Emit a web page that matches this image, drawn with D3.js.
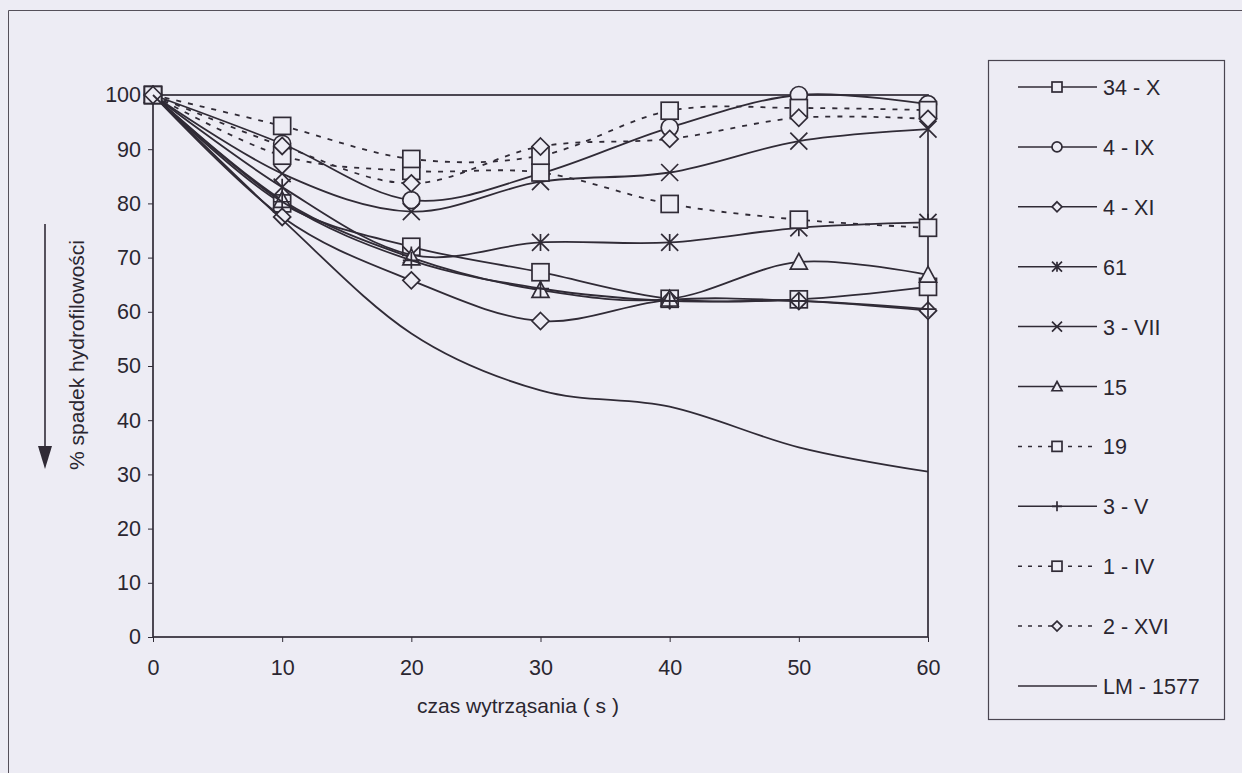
<!DOCTYPE html>
<html>
<head>
<meta charset="utf-8">
<script src="https://cdn.jsdelivr.net/npm/d3@7/dist/d3.min.js"></script>
<style>
  html, body { margin: 0; padding: 0; background: #edecf4; }
  svg { display: block; font-family: "Liberation Sans", Arial, sans-serif; }
</style>
</head>
<body>
<svg id="chart" width="1242" height="773"></svg>
<script>
// shaking time (s)
const times = [0, 10, 20, 30, 40, 50, 60];
const yTicks = [0, 10, 20, 30, 40, 50, 60, 70, 80, 90, 100];

// % loss of hydrophilicity per sample
const s34X  = [100, 80.0, 72.0, 67.3, 62.4, 62.3, 64.6];
const s4IX  = [100, 91.0, 80.6, 85.5, 94.0, 100, 98.3];
const s4XI  = [100, 77.5, 65.8, 58.3, 62.2, 62.0, 60.2];
const s61   = [100, 83.0, 70.5, 72.8, 72.8, 75.5, 76.5];
const s3VII = [100, 85.5, 78.5, 84.0, 85.7, 91.5, 93.7];
const s15   = [100, 80.6, 70.0, 64.0, 62.4, 69.2, 66.8];
const s19   = [100, 88.8, 86.0, 85.7, 79.9, 77.0, 75.5];
const s3V   = [100, 80.3, 69.5, 64.3, 62.0, 62.0, 60.5];
const s1IV  = [100, 94.3, 88.2, 88.8, 97.1, 97.6, 97.2];
const s2XVI = [100, 90.6, 83.7, 90.5, 91.9, 95.8, 95.6];
const sLM   = [100, 77.0, 56.0, 45.5, 42.5, 35.0, 30.5];

const seriesNames   = ["34 - X", "4 - IX", "4 - XI", "61", "3 - VII", "15", "19", "3 - V", "1 - IV", "2 - XVI", "LM - 1577"];
const seriesValues  = [s34X, s4IX, s4XI, s61, s3VII, s15, s19, s3V, s1IV, s2XVI, sLM];
const seriesMarkers = ["square", "circle", "diamond", "asterisk", "cross", "triangle", "square", "plus", "square", "diamond", "none"];
const seriesDashed  = [false, false, false, false, false, false, true, false, true, true, false];

const ink = "#302b36";
const textInk = "#2a2630";
const paper = "#edecf4";

const svg = d3.select("#chart");

// outer frame (left and top edges of the page box)
svg.append("path")
  .attr("d", "M8.5,773 V10.5 H1242")
  .attr("fill", "none").attr("stroke", "#55505a").attr("stroke-width", 1);

const plot = { left: 153, right: 928, top: 95, bottom: 637 };
const x = d3.scaleLinear().domain([0, 60]).range([plot.left, plot.right]);
const y = d3.scaleLinear().domain([0, 100]).range([plot.bottom, plot.top]);

// axes
const yAxis = svg.append("g")
  .attr("transform", `translate(${plot.left},0)`)
  .call(d3.axisLeft(y).tickValues(yTicks).tickSize(5).tickPadding(7));
const xAxis = svg.append("g")
  .attr("transform", `translate(0,${plot.bottom})`)
  .call(d3.axisBottom(x).tickValues(times).tickSize(5).tickPadding(18));
[yAxis, xAxis].forEach(g => {
  g.select(".domain").remove();
  g.selectAll(".tick line").attr("stroke", ink).attr("stroke-width", 1);
  g.selectAll(".tick text").attr("fill", textInk).style("font-size", "21.5px")
    .style("font-family", "'Liberation Sans', Arial, sans-serif");
});

// plot area frame
svg.append("rect")
  .attr("x", plot.left).attr("y", plot.top)
  .attr("width", plot.right - plot.left).attr("height", plot.bottom - plot.top)
  .attr("fill", "none").attr("stroke", ink).attr("stroke-width", 1.7);

// axis titles
svg.append("text")
  .attr("x", 518).attr("y", 713).attr("text-anchor", "middle")
  .attr("fill", textInk).style("font-size", "21px")
  .text("czas wytrząsania ( s )");
svg.append("text")
  .attr("transform", "translate(84,355) rotate(-90)")
  .attr("text-anchor", "middle").attr("fill", textInk).style("font-size", "21px")
  .text("% spadek hydrofilowości");

// downward arrow beside the y title
svg.append("line")
  .attr("x1", 45).attr("x2", 45).attr("y1", 224).attr("y2", 450)
  .attr("stroke", ink).attr("stroke-width", 1.6);
svg.append("path")
  .attr("d", "M38,446 L52,446 L45,469 Z").attr("fill", ink);

// marker shapes
function drawMarker(g, type, cx, cy, s) {
  const h = s / 2;
  const sw = 1.7;
  if (type === "square") {
    g.append("rect").attr("x", cx - h).attr("y", cy - h).attr("width", s).attr("height", s)
      .attr("fill", paper).attr("stroke", ink).attr("stroke-width", sw);
  } else if (type === "circle") {
    g.append("circle").attr("cx", cx).attr("cy", cy).attr("r", h)
      .attr("fill", paper).attr("stroke", ink).attr("stroke-width", sw);
  } else if (type === "diamond") {
    g.append("path").attr("d", `M${cx},${cy - h} L${cx + h},${cy} L${cx},${cy + h} L${cx - h},${cy} Z`)
      .attr("fill", paper).attr("stroke", ink).attr("stroke-width", sw);
  } else if (type === "triangle") {
    g.append("path").attr("d", `M${cx},${cy - h} L${cx + h},${cy + h * 0.85} L${cx - h},${cy + h * 0.85} Z`)
      .attr("fill", paper).attr("stroke", ink).attr("stroke-width", sw);
  } else if (type === "cross") {
    g.append("path").attr("d", `M${cx - h},${cy - h} L${cx + h},${cy + h} M${cx - h},${cy + h} L${cx + h},${cy - h}`)
      .attr("stroke", ink).attr("stroke-width", sw).attr("fill", "none");
  } else if (type === "asterisk") {
    g.append("path").attr("d", `M${cx - h},${cy - h} L${cx + h},${cy + h} M${cx - h},${cy + h} L${cx + h},${cy - h} M${cx},${cy - h} L${cx},${cy + h}`)
      .attr("stroke", ink).attr("stroke-width", sw).attr("fill", "none");
  } else if (type === "plus") {
    g.append("path").attr("d", `M${cx - h},${cy} L${cx + h},${cy} M${cx},${cy - h} L${cx},${cy + h}`)
      .attr("stroke", ink).attr("stroke-width", sw).attr("fill", "none");
  }
}

// smoothed series lines with markers
const line = d3.line()
  .x((d, i) => x(times[i]))
  .y(d => y(d))
  .curve(d3.curveCardinal.tension(0));

const seriesLayer = svg.append("g");
seriesValues.forEach((vals, k) => {
  const g = seriesLayer.append("g");
  g.append("path")
    .datum(vals)
    .attr("d", line)
    .attr("fill", "none")
    .attr("stroke", ink)
    .attr("stroke-width", 1.8)
    .attr("stroke-dasharray", seriesDashed[k] ? "5,7" : null);
  vals.forEach((v, i) => drawMarker(g, seriesMarkers[k], x(times[i]), y(v), 17));
});

// legend
const legend = svg.append("g");
legend.append("rect")
  .attr("x", 988.5).attr("y", 60.5).attr("width", 236).attr("height", 659)
  .attr("fill", "none").attr("stroke", "#4a4550").attr("stroke-width", 1.2);
seriesNames.forEach((name, k) => {
  const cy = 87 + k * 59.9;
  const g = legend.append("g");
  g.append("line")
    .attr("x1", 1018).attr("x2", 1097).attr("y1", cy).attr("y2", cy)
    .attr("stroke", ink).attr("stroke-width", 1.5)
    .attr("stroke-dasharray", seriesDashed[k] ? "4,6" : null);
  drawMarker(g, seriesMarkers[k], 1057, cy, 10);
  g.append("text")
    .attr("x", 1103).attr("y", cy + 8)
    .attr("fill", textInk).style("font-size", "21.5px")
    .text(name);
});
</script>
</body>
</html>
